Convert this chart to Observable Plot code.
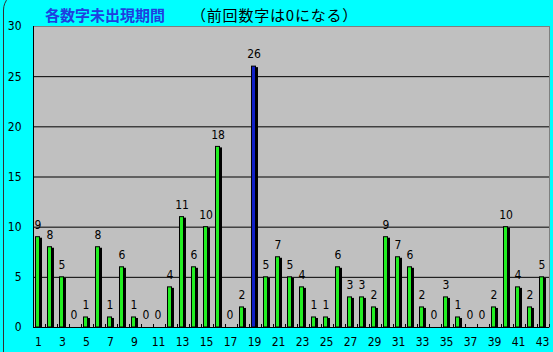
<!DOCTYPE html>
<html><head><meta charset="utf-8">
<script src="https://cdn.jsdelivr.net/npm/d3@7"></script>
<script src="https://cdn.jsdelivr.net/npm/@observablehq/plot@0.6"></script>
<style>
html,body{margin:0;padding:0;background:#00ffff;}
#wrap{position:relative;width:553px;height:352px;overflow:hidden;background:#00ffff;}
#border{position:absolute;left:3px;top:-8px;width:700px;height:500px;border:1px solid #333;border-radius:18px;box-sizing:border-box;}
.t{position:absolute;top:6px;font-family:"Noto Sans CJK JP",sans-serif;font-size:15px;line-height:18px;white-space:pre;}
#t1{left:45px;color:#1f3fe0;font-weight:bold;}
#t2{left:191px;color:#000;letter-spacing:0.8px;}
#chart{position:absolute;left:0;top:0;}
</style></head>
<body>
<div id="wrap"><div id="border"></div><div id="chart"></div>
<div class="t" id="t1">各数字未出現期間</div><div class="t" id="t2">（前回数字は0になる）</div></div>
<script>
const numbers = d3.range(1, 44);
const values = [9,8,5,0,1,8,1,6,1,0,0,4,11,6,10,18,0,2,26,5,7,5,4,1,1,6,3,3,2,9,7,6,2,0,3,1,0,0,2,10,4,2,5];
const highlight = 19;
const yTicks = [0,5,10,15,20,25,30];
const xTicks = numbers.filter(n => n % 2 === 1);

const data = numbers.map((n, i) => ({n, v: values[i]}));
const nonzero = data.filter(d => d.v > 0);
const font = '"Liberation Sans Narrow","DejaVu Sans Condensed",sans-serif';

const chart = Plot.plot({
  width: 553, height: 352,
  marginLeft: 33, marginRight: 4, marginTop: 26, marginBottom: 25,
  style: {background: "transparent", color: "black", fontFamily: font, fontSize: "12px"},
  x: {type: "band", domain: numbers, padding: 0, label: null},
  y: {domain: [0, 30], label: null},
  marks: [
    Plot.frame({fill: "#c0c0c0", stroke: "#7f7f7f"}),
    Plot.gridY([5,10,15,20,25], {stroke: "black", strokeOpacity: 1}),
    Plot.barY(nonzero, {x: "n", y: "v", fill: "black", insetLeft: 4, insetRight: 3, dy: 1}),
    Plot.barY(nonzero, {x: "n", y: "v", fill: d => d.n === highlight ? "#1020c8" : "#22ee22", stroke: "black", strokeWidth: 1, insetLeft: 2.5, insetRight: 5.5}),
    Plot.ruleX(numbers, {x: d => d, dx: 6, y1: 0, y2: 0.3, stroke: "black"}),
    Plot.ruleY([0], {stroke: "black"}),
    Plot.frame({anchor: "left", stroke: "black"}),
    Plot.text(data, {x: "n", y: "v", text: d => String(d.v), dx: -1.5, dy: -12, fontSize: 12, fill: "black"}),
    Plot.axisY({ticks: yTicks, tickSize: 0, tickPadding: 12, fontSize: 12}),
    Plot.axisX({ticks: xTicks, tickSize: 0, tickPadding: 10, fontSize: 12, dx: -1})
  ]
});
document.getElementById("chart").appendChild(chart);
</script>
</body></html>
